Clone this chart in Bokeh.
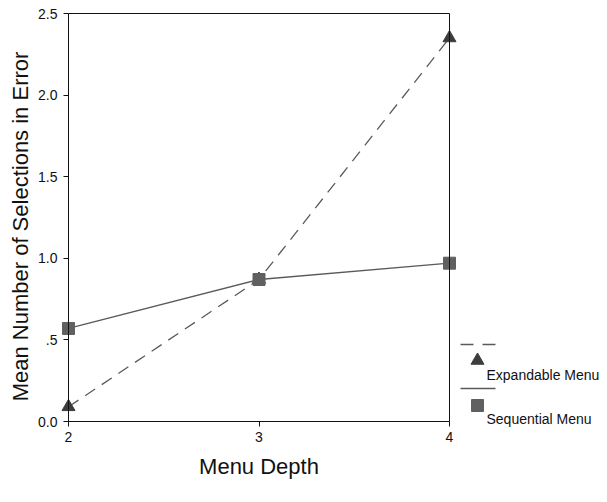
import math
from bokeh.plotting import figure
from bokeh.models import Range1d, FixedTicker, CustomJSTickFormatter, Label, LinearAxis
from bokeh.embed import file_html
from bokeh.resources import INLINE

menu_depth = [2, 3, 4]
expandable = [0.09, 0.87, 2.35]
sequential = [0.57, 0.87, 0.97]
y_ticks = [0.0, 0.5, 1.0, 1.5, 2.0, 2.5]
y_tick_labels = ["0.0", ".5", "1.0", "1.5", "2.0", "2.5"]
series_names = ["Expandable Menu", "Sequential Menu"]
x_title = "Menu Depth"
y_title = "Mean Number of Selections in Error"

FONT = "Liberation Sans"
LINE_COL = "#5a5a5a"
TRI_COL = "#3c3c3c"
SQ_COL = "#606060"
AX_COL = "#111111"

X0, X1 = 2, 4
Y0, Y1 = 0.0, 2.5
# layout (pixels): the frame covers the whole canvas, the data box sits inside it
BOX_L, BOX_R, BOX_T, BOX_B = 68, 449, 13, 421
FW, FH = 599, 485
KX = (BOX_R - BOX_L) / (X1 - X0)
KY = (BOX_B - BOX_T) / (Y1 - Y0)
xs0 = X0 - BOX_L / KX
ye1 = Y1 + BOX_T / KY
ys0 = ye1 - FH / KY


def sx(px):
    return xs0 + px / KX


def sy(py):
    return ye1 - py / KY


p = figure(frame_width=FW, frame_height=FH, output_backend="svg", toolbar_location=None,
           x_range=Range1d(xs0, xs0 + FW / KX), y_range=Range1d(ys0, ye1),
           x_axis_location=None, y_axis_location=None,
           min_border=0, min_border_left=0, min_border_right=0, min_border_top=0, min_border_bottom=0)
p.title.visible = False
p.grid.visible = False
p.outline_line_color = None

p.line(menu_depth, expandable, line_color=LINE_COL, line_width=1.3, line_dash="12 8")
p.line(menu_depth, sequential, line_color=LINE_COL, line_width=1.3)
p.scatter(menu_depth, expandable, marker="triangle", size=13, fill_color=TRI_COL, line_color=TRI_COL)
p.scatter(menu_depth, sequential, marker="square", size=12, fill_color=SQ_COL, line_color=SQ_COL)

blank = CustomJSTickFormatter(code="return '';")
ylab = CustomJSTickFormatter(args=dict(t=y_ticks, l=y_tick_labels),
    code="const i = t.findIndex(v => Math.abs(v - tick) < 1e-9); return i >= 0 ? l[i] : '';")


def make_axis(loc, bounds, ticks, formatter, standoff):
    return LinearAxis(fixed_location=loc, bounds=bounds, ticker=FixedTicker(ticks=ticks),
                      formatter=formatter, major_label_standoff=standoff,
                      major_label_text_font=FONT, major_label_text_font_size="14px",
                      major_label_text_color=AX_COL,
                      major_tick_in=0, major_tick_out=5, major_tick_line_color=AX_COL,
                      minor_tick_line_color=None, axis_line_color=AX_COL)


p.add_layout(make_axis(Y0, (X0, X1), menu_depth, None or CustomJSTickFormatter(code="return String(tick);"), 5), "below")
p.add_layout(make_axis(X0, (Y0, Y1), y_ticks, ylab, 6), "left")
p.add_layout(make_axis(Y1, (X0, X1), [], blank, 0), "above")
p.add_layout(make_axis(X1, (Y0, Y1), [], blank, 0), "right")

# axis titles
p.add_layout(Label(x=(X0 + X1) / 2, y=sy(466), text=x_title, text_font=FONT, text_font_size="22px",
                   text_color=AX_COL, text_align="center", text_baseline="middle"))
p.add_layout(Label(x=sx(20), y=sy(226), text=y_title, text_font=FONT, text_font_size="22px",
                   text_color=AX_COL, text_align="center", text_baseline="middle", angle=math.pi / 2))

# legend (right of the data box)
p.line([sx(460), sx(495)], [sy(344), sy(344)], line_color=LINE_COL, line_width=1.3, line_dash="13 9")
p.scatter([sx(477)], [sy(360)], marker="triangle", size=13, fill_color=TRI_COL, line_color=TRI_COL)
p.line([sx(460), sx(495)], [sy(388), sy(388)], line_color=LINE_COL, line_width=1.3)
p.scatter([sx(477)], [sy(405)], marker="square", size=12, fill_color=SQ_COL, line_color=SQ_COL)
for name, yy in zip(series_names, [374, 418]):
    p.add_layout(Label(x=sx(486), y=sy(yy), text=name, text_font=FONT, text_font_size="14px",
                       text_color=AX_COL, text_baseline="middle"))

open("out.html", "w").write(file_html(p, INLINE))
